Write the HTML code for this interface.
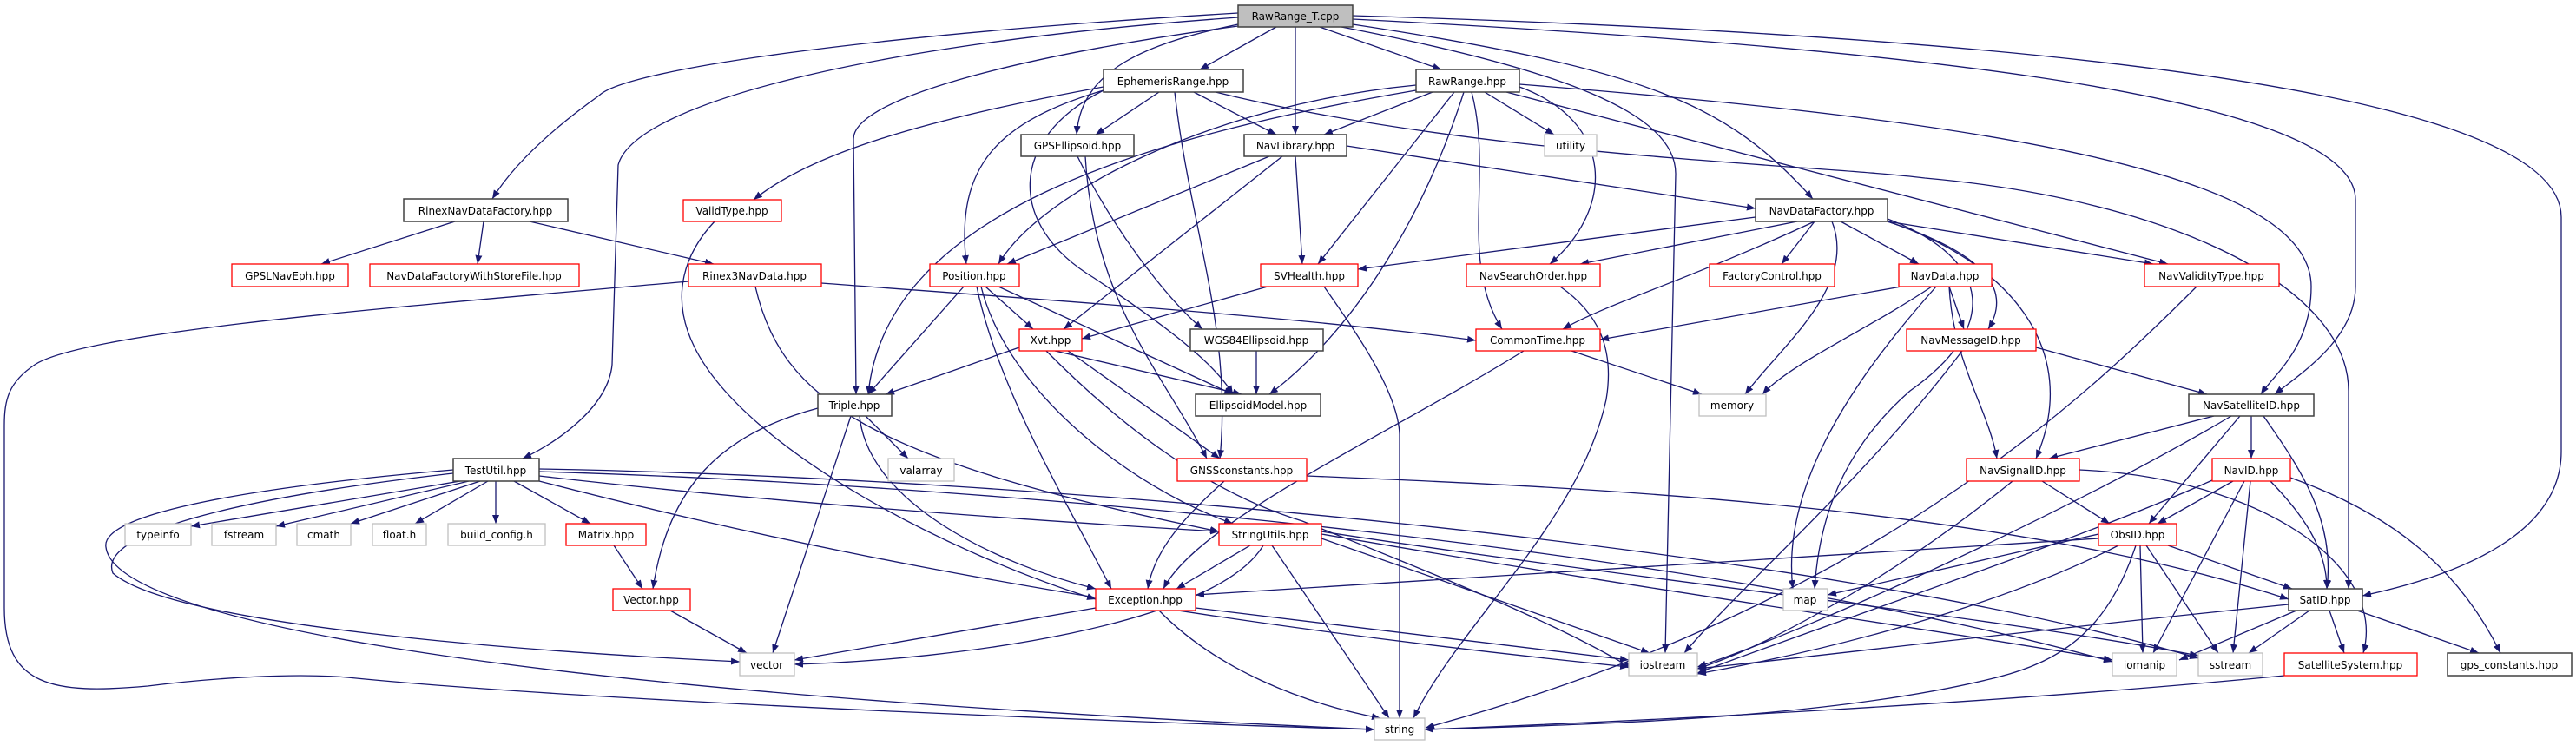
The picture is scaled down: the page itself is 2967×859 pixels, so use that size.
<!DOCTYPE html>
<html><head><meta charset="utf-8"><style>
html,body{margin:0;padding:0;background:#fff}
svg{display:block}
text{font-family:"DejaVu Sans","Liberation Sans",sans-serif;font-size:12px;fill:#000;text-anchor:middle}
.e path{fill:none;stroke:#191970;stroke-width:1.3}
.b{fill:#fff;stroke:#404040;stroke-width:1.5}
.r{fill:#fff;stroke:#ff0000;stroke-width:1.3}
.g{fill:#fff;stroke:#bfbfbf;stroke-width:1.3}
</style></head><body>
<svg width="2967" height="859" viewBox="0 0 2967 859" xmlns="http://www.w3.org/2000/svg">
<defs><marker id="a" markerUnits="userSpaceOnUse" markerWidth="11" markerHeight="8" refX="10" refY="4" orient="auto"><path d="M0,0 L10,4 L0,8 z" fill="#191970"/></marker></defs>
<g class="e" marker-end="url(#a)">
<path marker-end="url(#a)" d="M1426,15 C1000,40 720,80 690,110 C620,160 585,200 567,229"/>
<path marker-end="url(#a)" d="M1426,20 C1000,50 730,120 712,190 L705,420 C700,470 640,510 602,528"/>
<path marker-end="url(#a)" d="M1470,31 L1382,80"/>
<path marker-end="url(#a)" d="M1426,28 C1320,50 1245,80 1240,155"/>
<path marker-end="url(#a)" d="M1492,31 L1492,155"/>
<path marker-end="url(#a)" d="M1426,30 C1200,60 983,110 983,160 L986,454"/>
<path marker-end="url(#a)" d="M1520,31 L1660,80"/>
<path marker-end="url(#a)" d="M1545,31 C1800,80 1930,130 1930,200 L1918,752"/>
<path marker-end="url(#a)" d="M1558,28 C1900,80 1990,120 2088,229"/>
<path marker-end="url(#a)" d="M1558,22 C2100,50 2713,100 2713,230 L2713,330 C2713,390 2650,430 2620,454"/>
<path marker-end="url(#a)" d="M1558,18 C2300,40 2950,100 2950,250 L2950,520 C2950,620 2820,665 2721,686"/>
<path marker-end="url(#a)" d="M1271,100 C1050,140 930,180 868,230"/>
<path marker-end="url(#a)" d="M1271,104 C1150,140 1100,190 1113,304"/>
<path marker-end="url(#a)" d="M1335,106 L1262,155"/>
<path marker-end="url(#a)" d="M1375,106 L1470,155"/>
<path marker-end="url(#a)" d="M1400,106 C1700,180 2100,190 2217,205 C2500,230 2705,330 2705,450 L2705,678"/>
<path marker-end="url(#a)" d="M1271,104 C1160,160 1160,260 1260,320 C1350,380 1400,420 1420,454"/>
<path marker-end="url(#a)" d="M1353,106 C1370,260 1420,380 1405,528"/>
<path marker-end="url(#a)" d="M1631,98 C1400,120 1200,220 1150,304"/>
<path marker-end="url(#a)" d="M1650,106 L1525,155"/>
<path marker-end="url(#a)" d="M1675,106 L1518,304"/>
<path marker-end="url(#a)" d="M1686,106 C1640,250 1560,380 1462,454"/>
<path marker-end="url(#a)" d="M1695,106 C1720,200 1680,300 1730,379"/>
<path marker-end="url(#a)" d="M1710,106 L1790,155"/>
<path marker-end="url(#a)" d="M1750,100 C1860,140 1860,240 1785,304"/>
<path marker-end="url(#a)" d="M1735,106 L2497,304"/>
<path marker-end="url(#a)" d="M1750,97 C2300,140 2662,200 2662,330 C2662,400 2620,430 2604,454"/>
<path marker-end="url(#a)" d="M1631,104 C1300,160 1020,250 1000,454"/>
<path marker-end="url(#a)" d="M1241,180 C1280,260 1340,340 1385,379"/>
<path marker-end="url(#a)" d="M1250,180 C1260,350 1340,430 1390,528"/>
<path marker-end="url(#a)" d="M1462,180 L1160,304"/>
<path marker-end="url(#a)" d="M1477,180 L1225,379"/>
<path marker-end="url(#a)" d="M1492,180 L1500,304"/>
<path marker-end="url(#a)" d="M1551,168 L2022,240"/>
<path marker-end="url(#a)" d="M823,255 C790,290 770,340 800,400 C860,520 1100,640 1262,690"/>
<path marker-end="url(#a)" d="M524,255 L370,304"/>
<path marker-end="url(#a)" d="M557,255 L550,304"/>
<path marker-end="url(#a)" d="M610,255 L822,304"/>
<path marker-end="url(#a)" d="M793,324 C500,350 100,380 40,420 C10,440 5,460 5,490 L5,700 C5,790 60,800 170,790 C250,780 340,775 400,780 C700,810 1400,835 1583,840"/>
<path marker-end="url(#a)" d="M946,326 C1200,345 1500,365 1700,392"/>
<path marker-end="url(#a)" d="M870,330 C900,460 1000,530 1404,612"/>
<path marker-end="url(#a)" d="M1110,330 L1000,454"/>
<path marker-end="url(#a)" d="M1135,330 L1190,379"/>
<path marker-end="url(#a)" d="M1150,330 L1420,454"/>
<path marker-end="url(#a)" d="M1125,330 C1150,450 1230,580 1280,678"/>
<path marker-end="url(#a)" d="M1130,330 C1160,450 1300,560 1420,603"/>
<path marker-end="url(#a)" d="M1174,400 L1020,454"/>
<path marker-end="url(#a)" d="M1215,404 L1430,454"/>
<path marker-end="url(#a)" d="M1230,404 L1405,528"/>
<path marker-end="url(#a)" d="M1205,404 C1300,500 1400,570 1500,600 C1650,660 1800,720 1880,770"/>
<path marker-end="url(#a)" d="M1460,330 L1246,390"/>
<path marker-end="url(#a)" d="M1525,330 C1560,380 1610,450 1612,500 L1612,827"/>
<path marker-end="url(#a)" d="M1447,404 L1447,454"/>
<path marker-end="url(#a)" d="M1797,330 C1840,360 1860,400 1850,460 C1820,600 1680,720 1628,827"/>
<path marker-end="url(#a)" d="M1755,404 C1600,500 1380,600 1340,678"/>
<path marker-end="url(#a)" d="M1810,404 L1960,454"/>
<path marker-end="url(#a)" d="M2022,250 L1564,310"/>
<path marker-end="url(#a)" d="M2070,255 L1820,304"/>
<path marker-end="url(#a)" d="M2090,255 C1950,320 1850,350 1800,379"/>
<path marker-end="url(#a)" d="M2090,255 L2052,304"/>
<path marker-end="url(#a)" d="M2120,255 L2210,304"/>
<path marker-end="url(#a)" d="M2110,255 C2140,330 2050,400 2010,454"/>
<path marker-end="url(#a)" d="M2174,252 C2300,300 2300,380 2200,450 C2120,520 2095,600 2090,678"/>
<path marker-end="url(#a)" d="M2174,255 L2480,304"/>
<path marker-end="url(#a)" d="M2174,255 C2280,290 2320,330 2290,379"/>
<path marker-end="url(#a)" d="M2174,255 C2310,300 2400,400 2345,528"/>
<path marker-end="url(#a)" d="M2190,330 L1843,391"/>
<path marker-end="url(#a)" d="M2245,330 L2262,379"/>
<path marker-end="url(#a)" d="M2225,330 C2150,380 2060,420 2030,454"/>
<path marker-end="url(#a)" d="M2230,330 C2150,420 2050,550 2065,678"/>
<path marker-end="url(#a)" d="M2245,330 C2250,420 2290,470 2300,528"/>
<path marker-end="url(#a)" d="M2345,400 L2542,454"/>
<path marker-end="url(#a)" d="M2260,404 C2150,550 2000,680 1940,752"/>
<path marker-end="url(#a)" d="M2530,330 C2400,460 2150,700 1642,838"/>
<path marker-end="url(#a)" d="M942,470 C830,500 770,560 752,678"/>
<path marker-end="url(#a)" d="M980,479 L890,752"/>
<path marker-end="url(#a)" d="M997,479 L1046,528"/>
<path marker-end="url(#a)" d="M990,479 C1000,580 1150,650 1262,678"/>
<path marker-end="url(#a)" d="M1410,554 C1370,590 1330,630 1322,678"/>
<path marker-end="url(#a)" d="M1505,548 C1800,560 2300,580 2636,690"/>
<path marker-end="url(#a)" d="M530,554 L220,606"/>
<path marker-end="url(#a)" d="M540,554 L318,606"/>
<path marker-end="url(#a)" d="M553,554 L404,603"/>
<path marker-end="url(#a)" d="M562,554 L478,603"/>
<path marker-end="url(#a)" d="M571,554 L571,603"/>
<path marker-end="url(#a)" d="M592,554 L680,603"/>
<path marker-end="url(#a)" d="M621,548 C900,580 1200,600 1404,612"/>
<path marker-end="url(#a)" d="M522,545 C300,570 110,610 130,660 C200,720 600,750 852,762"/>
<path marker-end="url(#a)" d="M522,541 C300,560 115,590 122,630 C130,700 450,790 1583,840"/>
<path marker-end="url(#a)" d="M621,554 C800,600 1200,700 1876,768"/>
<path marker-end="url(#a)" d="M621,543 C1200,560 2000,640 2433,762"/>
<path marker-end="url(#a)" d="M621,540 C1200,550 2100,630 2532,758"/>
<path marker-end="url(#a)" d="M707,628 L740,678"/>
<path marker-end="url(#a)" d="M772,703 L860,752"/>
<path marker-end="url(#a)" d="M1440,628 L1355,678"/>
<path marker-end="url(#a)" d="M1455,628 C1400,720 1100,760 915,765"/>
<path marker-end="url(#a)" d="M1465,628 L1600,827"/>
<path marker-end="url(#a)" d="M1522,620 L1900,752"/>
<path marker-end="url(#a)" d="M1522,615 C1900,680 2200,720 2433,760"/>
<path marker-end="url(#a)" d="M1522,612 C1900,670 2300,710 2532,755"/>
<path marker-end="url(#a)" d="M1262,700 L915,760"/>
<path marker-end="url(#a)" d="M1335,703 C1400,770 1500,810 1590,827"/>
<path marker-end="url(#a)" d="M1377,700 L1876,760"/>
<path marker-end="url(#a)" d="M2550,479 L2360,528"/>
<path marker-end="url(#a)" d="M2593,479 L2593,528"/>
<path marker-end="url(#a)" d="M2580,479 L2475,603"/>
<path marker-end="url(#a)" d="M2607,479 C2650,540 2690,600 2680,678"/>
<path marker-end="url(#a)" d="M2570,479 C2400,580 2100,720 1955,768"/>
<path marker-end="url(#a)" d="M2352,554 L2430,603"/>
<path marker-end="url(#a)" d="M2395,541 C2600,550 2750,650 2722,752"/>
<path marker-end="url(#a)" d="M2318,554 C2200,650 2050,740 1955,770"/>
<path marker-end="url(#a)" d="M2572,554 L2485,603"/>
<path marker-end="url(#a)" d="M2548,553 C2400,620 2100,720 1955,775"/>
<path marker-end="url(#a)" d="M2585,554 L2480,752"/>
<path marker-end="url(#a)" d="M2592,554 L2572,752"/>
<path marker-end="url(#a)" d="M2615,554 C2650,590 2680,630 2680,678"/>
<path marker-end="url(#a)" d="M2638,550 C2750,590 2830,650 2880,752"/>
<path marker-end="url(#a)" d="M2417,620 L1377,685"/>
<path marker-end="url(#a)" d="M2497,628 L2640,678"/>
<path marker-end="url(#a)" d="M2465,628 L2468,752"/>
<path marker-end="url(#a)" d="M2472,628 L2555,752"/>
<path marker-end="url(#a)" d="M2460,628 C2430,720 2380,760 2300,780 C2100,830 1800,835 1641,840"/>
<path marker-end="url(#a)" d="M2417,615 L2105,685"/>
<path marker-end="url(#a)" d="M2440,628 C2300,700 2100,750 1955,776"/>
<path marker-end="url(#a)" d="M2636,696 C2300,730 2100,755 1955,770"/>
<path marker-end="url(#a)" d="M2645,703 L2510,760"/>
<path marker-end="url(#a)" d="M2660,703 L2590,752"/>
<path marker-end="url(#a)" d="M2683,703 L2700,752"/>
<path marker-end="url(#a)" d="M2715,703 L2855,752"/>
<path marker-end="url(#a)" d="M2631,778 C2300,810 1900,830 1641,840"/>
</g>
<g>
<rect x="1426" y="6" width="132" height="25" fill="#bfbfbf" stroke="#404040" stroke-width="1.5"/><text x="1492" y="23">RawRange_T.cpp</text>
<rect class="b" x="465" y="229" width="189" height="26"/><text x="559" y="247">RinexNavDataFactory.hpp</text>
<rect class="r" x="267" y="304" width="134" height="26"/><text x="334" y="322">GPSLNavEph.hpp</text>
<rect class="r" x="426" y="304" width="241" height="26"/><text x="546" y="322">NavDataFactoryWithStoreFile.hpp</text>
<rect class="b" x="1271" y="80" width="161" height="26"/><text x="1351" y="98">EphemerisRange.hpp</text>
<rect class="b" x="1176" y="155" width="130" height="25"/><text x="1241" y="172">GPSEllipsoid.hpp</text>
<rect class="b" x="1433" y="155" width="118" height="25"/><text x="1492" y="172">NavLibrary.hpp</text>
<rect class="r" x="787" y="230" width="113" height="25"/><text x="843" y="247">ValidType.hpp</text>
<rect class="r" x="793" y="304" width="153" height="26"/><text x="869" y="322">Rinex3NavData.hpp</text>
<rect class="r" x="1071" y="304" width="103" height="26"/><text x="1122" y="322">Position.hpp</text>
<rect class="r" x="1452" y="304" width="112" height="26"/><text x="1508" y="322">SVHealth.hpp</text>
<rect class="r" x="1174" y="379" width="72" height="25"/><text x="1210" y="396">Xvt.hpp</text>
<rect class="b" x="1371" y="379" width="153" height="25"/><text x="1447" y="396">WGS84Ellipsoid.hpp</text>
<rect class="b" x="1631" y="80" width="119" height="26"/><text x="1690" y="98">RawRange.hpp</text>
<rect class="g" x="1779" y="155" width="60" height="25"/><text x="1809" y="172">utility</text>
<rect class="b" x="2022" y="229" width="152" height="26"/><text x="2098" y="247">NavDataFactory.hpp</text>
<rect class="r" x="1689" y="304" width="154" height="26"/><text x="1766" y="322">NavSearchOrder.hpp</text>
<rect class="r" x="1969" y="304" width="144" height="26"/><text x="2041" y="322">FactoryControl.hpp</text>
<rect class="r" x="2187" y="304" width="107" height="26"/><text x="2240" y="322">NavData.hpp</text>
<rect class="r" x="1700" y="379" width="143" height="25"/><text x="1771" y="396">CommonTime.hpp</text>
<rect class="r" x="2196" y="379" width="149" height="25"/><text x="2270" y="396">NavMessageID.hpp</text>
<rect class="r" x="2470" y="304" width="155" height="26"/><text x="2547" y="322">NavValidityType.hpp</text>
<rect class="b" x="522" y="528" width="99" height="26"/><text x="571" y="546">TestUtil.hpp</text>
<rect class="g" x="144" y="603" width="76" height="25"/><text x="182" y="620">typeinfo</text>
<rect class="g" x="244" y="603" width="74" height="25"/><text x="281" y="620">fstream</text>
<rect class="g" x="342" y="603" width="62" height="25"/><text x="373" y="620">cmath</text>
<rect class="g" x="429" y="603" width="62" height="25"/><text x="460" y="620">float.h</text>
<rect class="g" x="516" y="603" width="112" height="25"/><text x="572" y="620">build_config.h</text>
<rect class="r" x="652" y="603" width="92" height="25"/><text x="698" y="620">Matrix.hpp</text>
<rect class="r" x="706" y="678" width="89" height="25"/><text x="750" y="695">Vector.hpp</text>
<rect class="b" x="942" y="454" width="85" height="25"/><text x="984" y="471">Triple.hpp</text>
<rect class="b" x="1377" y="454" width="144" height="25"/><text x="1449" y="471">EllipsoidModel.hpp</text>
<rect class="g" x="1023" y="528" width="76" height="26"/><text x="1061" y="546">valarray</text>
<rect class="r" x="1356" y="528" width="149" height="26"/><text x="1430" y="546">GNSSconstants.hpp</text>
<rect class="r" x="1404" y="603" width="118" height="25"/><text x="1463" y="620">StringUtils.hpp</text>
<rect class="r" x="1262" y="678" width="115" height="25"/><text x="1319" y="695">Exception.hpp</text>
<rect class="g" x="852" y="752" width="63" height="26"/><text x="883" y="770">vector</text>
<rect class="g" x="1957" y="454" width="77" height="25"/><text x="1995" y="471">memory</text>
<rect class="g" x="2054" y="678" width="51" height="25"/><text x="2079" y="695">map</text>
<rect class="g" x="1876" y="752" width="79" height="26"/><text x="1915" y="770">iostream</text>
<rect class="g" x="1583" y="827" width="58" height="25"/><text x="1612" y="844">string</text>
<rect class="b" x="2521" y="454" width="144" height="25"/><text x="2593" y="471">NavSatelliteID.hpp</text>
<rect class="r" x="2265" y="528" width="130" height="26"/><text x="2330" y="546">NavSignalID.hpp</text>
<rect class="r" x="2548" y="528" width="90" height="26"/><text x="2593" y="546">NavID.hpp</text>
<rect class="r" x="2417" y="603" width="90" height="25"/><text x="2462" y="620">ObsID.hpp</text>
<rect class="b" x="2636" y="678" width="85" height="25"/><text x="2678" y="695">SatID.hpp</text>
<rect class="g" x="2433" y="752" width="74" height="26"/><text x="2470" y="770">iomanip</text>
<rect class="g" x="2532" y="752" width="74" height="26"/><text x="2569" y="770">sstream</text>
<rect class="r" x="2631" y="752" width="153" height="26"/><text x="2707" y="770">SatelliteSystem.hpp</text>
<rect class="b" x="2819" y="752" width="143" height="26"/><text x="2890" y="770">gps_constants.hpp</text>
</g>
</svg>
</body></html>
